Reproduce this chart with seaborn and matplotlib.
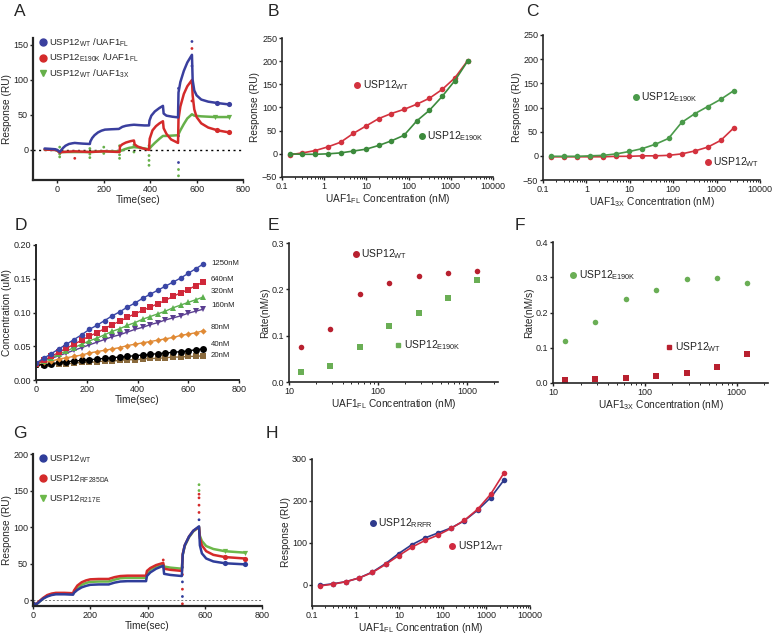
import numpy as np
import pandas as pd
import matplotlib
matplotlib.use("Agg")
import matplotlib.pyplot as plt
from matplotlib.lines import Line2D
from matplotlib.ticker import LogLocator, NullFormatter
import seaborn as sns

sns.set_style("ticks")
plt.rcParams['font.family'] = ['Liberation Sans', 'DejaVu Sans']
plt.rcParams['mathtext.fontset'] = 'custom'
plt.rcParams['mathtext.rm'] = 'Liberation Sans'

# ---------------- data ----------------
# A: SPR sensorgrams
a_t_wt = [-55, -30, -10, 0, 10, 15, 25, 35, 50, 65, 75, 90, 110, 140, 142, 150, 160, 175, 190, 205,
          230, 265, 270, 280, 295, 315, 330, 350, 375, 395, 397, 405, 420, 440, 455, 458, 470, 495, 520, 522,
          530, 545, 560, 580, 583, 590, 600, 620, 650, 690, 740]
a_v_wt = [2, 1.5, 1, 0, -3, -1, 3, 6, 8.5, 9.5, 10, 9.5, 9, 8.5, 12, 17, 21, 25, 27.5, 29,
          29.5, 30, 31, 33, 34.5, 35.5, 36, 35.5, 35, 35, 42, 49, 55, 60, 63, 52, 49, 47.5, 46.5, 82,
          97, 113, 125, 136, 100, 85, 78, 72, 69, 67, 65]
a_t_e190k = [-55, -10, 0, 10, 20, 75, 140, 200, 268, 270, 280, 295, 315, 330, 333, 345, 365, 395, 398, 410,
             425, 440, 455, 458, 470, 490, 520, 522, 530, 545, 560, 580, 583, 590, 600, 620, 650, 690, 740]
a_v_e190k = [0.5, 0, -1, -4, -3, -2, -3, -2, -3, 5, 8, 10.5, 12.5, 13.5, 8, 5, 2.5, 0, 16, 28,
             34, 38, 41, 31, 23, 15, 10, 44, 62, 80, 91, 100, 78, 58, 47, 38, 32, 28, 25]
a_t_3x = [-55, -10, 0, 10, 20, 75, 140, 200, 268, 290, 310, 330, 360, 395, 405, 420, 440, 455, 470, 495,
          520, 530, 545, 560, 580, 590, 620, 680, 740]
a_v_3x = [0.5, 0, -1, -4, -3, -3, -3, -2, -2, 1, 3, 4, 3, 1, 5, 10, 16, 20, 20, 20.5,
          21, 28, 37, 45, 51, 49, 48, 47, 47]
a_spike_t = [10, 10, 10, 75, 140, 140, 140, 200, 200, 268, 268, 268, 330, 330,
             395, 395, 395, 395, 522, 522, 522, 522, 522, 522, 580, 580, 580, 580, 580]
a_spike_v = [-10, -6, 4, -12, -11, -6, 2, -5, 4, -12, -7, 6, -3, 7,
             -22, -15, -8, 6, -37, -28, -18, 20, 50, 88, 155, 145, 120, 95, 70]
a_spike_s = ['3x', '3x', '3x', 'e190k', '3x', '3x', '3x', '3x', '3x', '3x', '3x', '3x', '3x', '3x',
             '3x', '3x', '3x', '3x', '3x', '3x', 'wt', 'wt', 'wt', 'wt', 'wt', 'e190k', 'wt', 'e190k', 'e190k']

# B, C, H: dose series (nM)
conc = [0.153, 0.305, 0.61, 1.22, 2.44, 4.88, 9.77, 19.5, 39, 78, 156, 312, 625, 1250, 2500]
b_wt = [-2, 2, 7, 15, 25, 44, 60, 76, 87, 96, 107, 120, 139, 164, 201]
b_e190k = [0, -1, -1, 0, 2, 6, 10, 18, 28, 40, 71, 94, 124, 158, 200]
c_wt = [-2, -2, -2, -2, -2, -1, -1, 0, 0, 1, 4, 10, 18, 32, 58]
c_e190k = [-1, -1, -1, 0, 1, 4, 9, 15, 24, 36, 69, 87, 102, 117, 135]
h_wt = [-2, 2, 8, 17, 30, 49, 70, 90, 106, 119, 135, 154, 180, 216, 266]
h_rrfr = [-1, 3, 8, 17, 31, 51, 75, 96, 112, 124, 136, 153, 178, 208, 249]

# D: product formation
d_time = [0, 30, 60, 90, 120, 150, 180, 210, 240, 270, 300, 330, 360, 390, 420, 450, 480, 510, 540, 570, 600, 630, 660]
d_1250 = [.025, .032, .039, .046, .053, .060, .067, .075, .081, .088, .095, .101, .108, .114, .121, .127, .133, .139, .145, .151, .158, .165, .172]
d_640 = [.024, .029, .035, .041, .047, .053, .059, .065, .070, .076, .082, .087, .093, .098, .103, .108, .113, .118, .124, .129, .134, .140, .145]
d_320 = [.024, .028, .033, .038, .043, .048, .053, .058, .062, .067, .072, .076, .081, .085, .090, .094, .098, .102, .107, .111, .115, .119, .123]
d_160 = [.024, .028, .032, .036, .040, .044, .048, .052, .056, .060, .064, .067, .071, .075, .078, .082, .085, .089, .092, .095, .099, .102, .105]
d_80 = [.024, .026, .028, .031, .033, .035, .037, .040, .042, .044, .046, .048, .051, .053, .055, .057, .059, .061, .063, .066, .068, .070, .073]
d_40 = [.024, .022, .024, .026, .027, .028, .029, .030, .031, .032, .033, .034, .035, .036, .037, .038, .039, .040, .041, .042, .043, .045, .046]
d_20 = [.022, .022, .023, .024, .024, .025, .026, .026, .027, .028, .028, .029, .030, .030, .031, .032, .032, .033, .034, .034, .035, .035, .036]
d_labels = ['1250nM', '640nM', '320nM', '160nM', '80nM', '40nM', '20nM']
d_label_y = [0.172, 0.149, 0.131, 0.110, 0.078, 0.053, 0.036]

# E, F: rates
rate_conc = [13.5, 29, 62, 133, 287, 612, 1295]
e_wt = [0.075, 0.114, 0.189, 0.213, 0.228, 0.235, 0.239]
e_e190k = [0.021, 0.035, 0.075, 0.121, 0.150, 0.182, 0.220]
f_e190k = [0.120, 0.173, 0.237, 0.263, 0.294, 0.297, 0.285]
f_wt = [0.009, 0.012, 0.015, 0.019, 0.028, 0.045, 0.082]

# G: SPR sensorgrams of mutants
g_time = [0, 10, 20, 35, 50, 65, 80, 110, 140, 143, 155, 170, 185, 200, 230, 265, 268, 285, 305, 330,
          360, 395, 398, 410, 430, 455, 458, 480, 520, 523, 530, 545, 560, 580, 583, 590, 605, 630, 670, 740]
g_wt = [-3, -6, -3, 2, 5, 7, 8, 8, 7.5, 10, 14, 17.5, 19.5, 21, 21.5, 21.5, 22, 24, 25.5, 26,
        26, 26, 33, 38, 43, 47, 36, 34.5, 33, 62, 75, 87, 95, 101, 75, 64, 57, 53, 50.5, 49]
g_rf = [-3, -6, -2, 3, 7, 9, 10, 10, 9.5, 13, 20, 24.5, 27, 28.5, 29, 29, 29.5, 31.5, 33, 33.5,
        33.5, 33.5, 40, 44, 48, 51, 43, 41.5, 40, 63, 75, 87, 95, 100, 85, 75, 67, 62, 59, 57]
g_r217 = [-3, -6, -3, 2, 6, 8, 9, 9, 8.5, 11, 16, 21, 23.5, 25, 25.5, 25.5, 26, 28, 30, 30.5,
          30.5, 30.5, 37, 42, 46, 49, 46, 44.5, 43, 62, 74, 86, 94, 100, 88, 81, 74, 70, 67, 65]
g_spike_t = [455, 522, 522, 522, 522, 522, 522, 580, 580, 580, 580, 580, 580, 580]
g_spike_v = [55, -5, 5, 15, 25, 35, 45, 158, 150, 140, 130, 120, 110, 145]
g_spike_s = ['rf', 'rf', 'wt', 'rf', 'wt', 'rf', 'wt', 'r217', 'r217', 'rf', 'rf', 'rf', 'wt', 'rf']


def sub(base, s, tail=''):
    return base + r'$_{\mathregular{' + s + '}}$' + tail


def style(ax, lw=1.2):
    sns.despine(ax=ax)
    for s in ['left', 'bottom']:
        ax.spines[s].set_linewidth(lw)
    ax.tick_params(labelsize=6.5, length=2.5, width=1, colors='#222222', pad=1)


def logx(ax, lo, hi, ticks):
    ax.set_xscale('log')
    ax.set_xlim(lo, hi)
    ax.set_xticks(ticks)
    ax.set_xticklabels([('%g' % t) for t in ticks])
    ax.xaxis.set_minor_locator(LogLocator(subs=np.arange(2, 10) * 0.1, numticks=20))
    ax.xaxis.set_minor_formatter(NullFormatter())
    ax.tick_params(axis='x', which='minor', length=1.5, width=0.7)


def tag(ax, x, y, label, color, marker='o', ms=4):
    ax.plot([x], [y], marker=marker, color=color, ms=ms, ls='')
    ax.annotate(label, (x, y), xytext=(4, 0), textcoords='offset points',
                fontsize=7.5, va='center', color='#222222')


W, H = 774, 637


def box(l, t, r, b):
    return [l / W, 1 - b / H, (r - l) / W, (b - t) / H]


fig = plt.figure(figsize=(7.74, 6.37), dpi=100)
lab_kw = dict(fontsize=7.3, labelpad=1)

# ---------------- A ----------------
blue, red, green = '#3a3f9e', '#d42a2a', '#66b04a'
ax = fig.add_axes(box(33, 38, 243, 180))
ax.axhline(0, color='black', ls=(0, (1.5, 2.5)), lw=1)
for t, v, c in [(a_t_3x, a_v_3x, green), (a_t_e190k, a_v_e190k, red), (a_t_wt, a_v_wt, blue)]:
    sns.lineplot(x=t, y=v, estimator=None, sort=False, color=c, lw=1.8, ax=ax)
    sns.scatterplot(x=t[-2:], y=v[-2:], color=c, s=14, linewidth=0, ax=ax,
                    marker='v' if c == green else 'o')
spk = pd.DataFrame({'t': a_spike_t, 'v': a_spike_v, 's': a_spike_s})
sns.scatterplot(data=spk, x='t', y='v', hue='s', palette={'wt': blue, 'e190k': red, '3x': green},
                s=4, linewidth=0, legend=False, ax=ax)
ax.set_xlim(-105, 800)
ax.set_ylim(-43, 160)
ax.set_xticks([0, 200, 400, 600, 800])
ax.set_yticks([0, 50, 100, 150])
ax.set_xlabel('Time(sec)', **lab_kw)
ax.set_ylabel('Response (RU)', **lab_kw)
style(ax, 1.6)
hand = [Line2D([], [], marker='o', ls='', color=blue, ms=5, label=sub('USP12', 'WT', ' /UAF1') + r'$_{\mathregular{FL}}$'),
        Line2D([], [], marker='o', ls='', color=red, ms=5, label=sub('USP12', 'E190K', ' /UAF1') + r'$_{\mathregular{FL}}$'),
        Line2D([], [], marker='v', ls='', color=green, ms=5, label=sub('USP12', 'WT', ' /UAF1') + r'$_{\mathregular{3X}}$')]
ax.legend(handles=hand, loc='upper left', bbox_to_anchor=(0.0, 1.05), frameon=False, fontsize=6.8,
          handletextpad=0.1, labelspacing=0.3, borderaxespad=0.2, handlelength=1.0)

# ---------------- B ----------------
ax = fig.add_axes(box(282, 38, 493, 177))
bred, bgreen = '#d3323e', '#3c8a3c'
sns.lineplot(x=conc, y=b_wt, color=bred, marker='o', ms=4, mew=0, lw=1.2, ax=ax)
sns.lineplot(x=conc, y=b_e190k, color=bgreen, marker='o', ms=4, mew=0, lw=1.2, ax=ax)
logx(ax, 0.1, 10000, [0.1, 1, 10, 100, 1000, 10000])
ax.set_ylim(-50, 250)
ax.set_yticks(range(-50, 251, 50))
ax.set_xlabel(sub('UAF1', 'FL', ' Concentration (nM)'), **lab_kw)
ax.set_ylabel('Response (RU)', **lab_kw)
tag(ax, 6.0, 148, sub('USP12', 'WT'), bred)
tag(ax, 207, 38, sub('USP12', 'E190K'), bgreen)
style(ax)

# ---------------- C ----------------
ax = fig.add_axes(box(543, 35, 760, 180))
cgreen = '#4a9a4a'
sns.lineplot(x=conc, y=c_wt, color=bred, marker='o', ms=4, mew=0, lw=1.2, ax=ax)
sns.lineplot(x=conc, y=c_e190k, color=cgreen, marker='o', ms=4, mew=0, lw=1.2, ax=ax)
logx(ax, 0.1, 10000, [0.1, 1, 10, 100, 1000, 10000])
ax.set_ylim(-50, 250)
ax.set_yticks(range(-50, 251, 50))
ax.set_xlabel(sub('UAF1', '3X', ' Concentration (nM)'), **lab_kw)
ax.set_ylabel('Response (RU)', **lab_kw)
tag(ax, 13.8, 121, sub('USP12', 'E190K'), cgreen)
tag(ax, 630, -12, sub('USP12', 'WT'), bred)
style(ax)

# ---------------- D ----------------
ax = fig.add_axes(box(36, 245, 239, 380))
d_series = [(d_20, '#8a6a3c', 's', 4.5), (d_40, 'black', 'o', 5), (d_80, '#e08a35', 'D', 3.2),
            (d_160, '#5b3f91', 'v', 4), (d_320, '#5cb04e', '^', 4), (d_640, '#d0283a', 's', 4),
            (d_1250, '#3a46a6', 'o', 4)]
for vals, col, mk, ms in d_series:
    sns.lineplot(x=d_time, y=vals, color=col, marker=mk, ms=ms, mew=0, lw=1, ax=ax)
for lab, y in zip(d_labels, d_label_y):
    ax.text(690, y, lab, fontsize=5.6, va='center', color='#222222')
ax.set_xlim(0, 800)
ax.set_ylim(0, 0.2)
ax.set_xticks([0, 200, 400, 600, 800])
ax.set_yticks([0, 0.05, 0.10, 0.15, 0.20])
ax.set_yticklabels(['0.00', '0.05', '0.10', '0.15', '0.20'])
ax.set_xlabel('Time(sec)', **lab_kw)
ax.set_ylabel('Concentration (uM)', **lab_kw)
style(ax, 1.4)

# ---------------- E ----------------
ered, egreen = '#b8202f', '#6aae55'
ax = fig.add_axes(box(289, 243, 498, 382))
sns.scatterplot(x=rate_conc, y=e_wt, color=ered, marker='o', s=16, linewidth=0, ax=ax)
sns.scatterplot(x=rate_conc, y=e_e190k, color=egreen, marker='s', s=16, linewidth=0, ax=ax)
logx(ax, 10, 2200, [10, 100, 1000])
ax.set_ylim(0, 0.3)
ax.set_yticks([0, 0.1, 0.2, 0.3])
ax.set_yticklabels(['0.0', '0.1', '0.2', '0.3'])
ax.set_xlabel(sub('UAF1', 'FL', ' Concentration (nM)'), **lab_kw)
ax.set_ylabel('Rate(nM/s)', **lab_kw)
tag(ax, 56, 0.277, sub('USP12', 'WT'), ered)
tag(ax, 168, 0.079, sub('USP12', 'E190K'), egreen, marker='s', ms=3.5)
style(ax)

# ---------------- F ----------------
ax = fig.add_axes(box(553, 242, 768, 383))
sns.scatterplot(x=rate_conc, y=f_e190k, color=egreen, marker='o', s=16, linewidth=0, ax=ax)
sns.scatterplot(x=rate_conc, y=f_wt, color=ered, marker='s', s=16, linewidth=0, ax=ax)
logx(ax, 10, 2200, [10, 100, 1000])
ax.set_ylim(0, 0.4)
ax.set_yticks([0, 0.1, 0.2, 0.3, 0.4])
ax.set_yticklabels(['0.0', '0.1', '0.2', '0.3', '0.4'])
ax.set_xlabel(sub('UAF1', '3X', ' Concentration (nM)'), **lab_kw)
ax.set_ylabel('Rate(nM/s)', **lab_kw)
tag(ax, 16.7, 0.307, sub('USP12', 'E190K'), egreen)
tag(ax, 185, 0.102, sub('USP12', 'WT'), ered, marker='s', ms=3.5)
style(ax)

# ---------------- G ----------------
gblue, gred, ggreen = '#2f3d9a', '#d42a2a', '#6cb84a'
ax = fig.add_axes(box(33, 454, 262, 606))
ax.axhline(0, color='#777777', ls=(0, (2, 2)), lw=0.7)
for vals, c, mk in [(g_r217, ggreen, 'v'), (g_rf, gred, 'o'), (g_wt, gblue, 'o')]:
    sns.lineplot(x=g_time, y=vals, estimator=None, sort=False, color=c, lw=1.8, ax=ax)
    sns.scatterplot(x=g_time[-2:], y=vals[-2:], color=c, s=14, marker=mk, linewidth=0, ax=ax)
gspk = pd.DataFrame({'t': g_spike_t, 'v': g_spike_v, 's': g_spike_s})
sns.scatterplot(data=gspk, x='t', y='v', hue='s', palette={'wt': gblue, 'rf': gred, 'r217': ggreen},
                s=4, linewidth=0, legend=False, ax=ax)
ax.set_xlim(0, 800)
ax.set_ylim(-8, 200)
ax.set_xticks([0, 200, 400, 600, 800])
ax.set_yticks([0, 50, 100, 150, 200])
ax.set_xlabel('Time(sec)', **lab_kw)
ax.set_ylabel('Response (RU)', **lab_kw)
style(ax, 1.6)
hand = [Line2D([], [], marker='o', ls='', color=gblue, ms=5, label=sub('USP12', 'WT')),
        Line2D([], [], marker='o', ls='', color=gred, ms=5, label=sub('USP12', 'RF285DA')),
        Line2D([], [], marker='v', ls='', color=ggreen, ms=5, label=sub('USP12', 'R217E'))]
ax.legend(handles=hand, loc='upper left', bbox_to_anchor=(0.0, 1.04), frameon=False, fontsize=6.8,
          handletextpad=0.1, labelspacing=0.9, borderaxespad=0.2, handlelength=1.0)

# ---------------- H ----------------
hblue, hred = '#2e3a8c', '#d02a40'
ax = fig.add_axes(box(312, 459, 530, 606))
sns.lineplot(x=conc, y=h_rrfr, color=hblue, marker='o', ms=4, mew=0, lw=1.2, ax=ax)
sns.lineplot(x=conc, y=h_wt, color=hred, marker='o', ms=4, mew=0, lw=1.2, ax=ax)
logx(ax, 0.1, 10000, [0.1, 1, 10, 100, 1000, 10000])
ax.set_ylim(-50, 300)
ax.set_yticks([0, 100, 200, 300])
ax.set_xlabel(sub('UAF1', 'FL', ' Concentration (nM)'), **lab_kw)
ax.set_ylabel('Response (RU)', **lab_kw)
tag(ax, 2.48, 147, sub('USP12', 'RRFR'), hblue)
tag(ax, 166, 93, sub('USP12', 'WT'), hred)
style(ax)

# panel letters
for letter, x, y in [('A', 20, 12), ('B', 273, 11), ('C', 532, 11), ('D', 21, 225),
                     ('E', 273, 225), ('F', 520, 225), ('G', 20, 433), ('H', 272, 433)]:
    fig.text(x / W, 1 - y / H, letter, fontsize=12.5, ha='center', va='center')

fig.savefig('out.png', dpi=100)
